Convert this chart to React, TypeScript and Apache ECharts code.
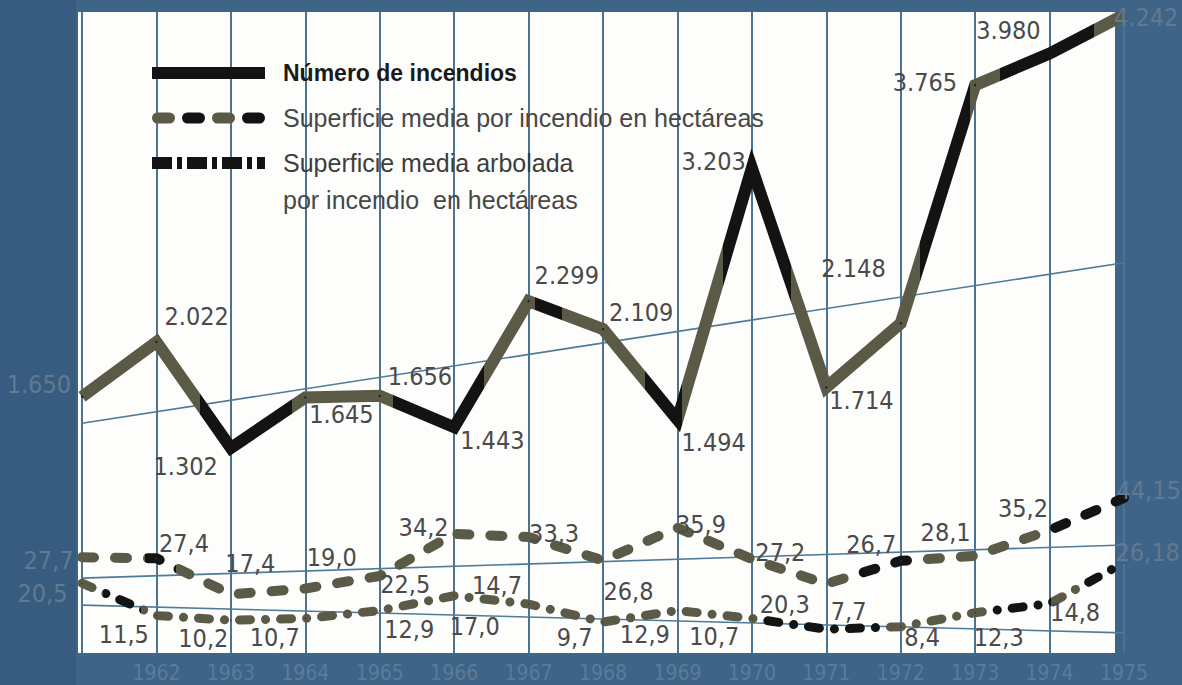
import React, { useEffect, useRef } from 'react';
import * as echarts from 'echarts';

// ---------- data ----------
const years = ['1961', '1962', '1963', '1964', '1965', '1966', '1967', '1968', '1969', '1970', '1971', '1972', '1973', '1974', '1975'];
const fires = [1650, 2022, 1302, 1645, 1656, 1443, 2299, 2109, 1494, 3203, 1714, 2148, 3765, 3980, 4242];
const areaPerFire = [27.7, 27.4, 17.4, 19.0, 22.5, 34.2, 33.3, 26.8, 35.9, 27.2, 20.3, 26.7, 28.1, 35.2, 44.15];
const woodedPerFire = [20.5, 11.5, 10.2, 10.7, 12.9, 17.0, 14.7, 9.7, 12.9, 10.7, 7.7, 8.4, 12.3, 14.8, 26.18];
// trend lines (value at first year, value at last year)
const firesTrend = [1470, 2560];
const areaTrend = [21.9, 31.1];
const woodedTrend = [14.4, 6.7];

const legendNames = [
  'Número de incendios',
  'Superficie media por incendio en hectáreas',
  'Superficie media arbolada',
  'por incendio  en hectáreas',
];

// ---------- label placement (style, not data) ----------
type Place = [string, number, number];
const firePlace: Place[] = [
  ['left', -5, -12], ['right', 2, -25], ['left', -7, 19], ['right', -2, 17], ['right', 2, -19],
  ['right', 0, 13], ['right', 0, -26], ['right', 0, -17], ['right', -2, 23], ['left', 0, -6],
  ['right', -3, 13], ['left', -9, -55], ['left', -12, -3], ['left', -3, -23], ['right', -16, 3],
];
const areaPlace: Place[] = [
  ['left', -3, 3], ['right', -3, -15], ['right', -11, -31], ['right', -4, -31], ['right', -5, 9],
  ['left', 0, -6], ['right', -5, -4], ['right', -5, 31], ['right', -7, -3], ['right', -2, -7],
  ['left', -11, 21], ['left', 1, -16], ['left', 1, -23], ['left', 4, -22], ['right', -13, -8],
];
const woodedPlace: Place[] = [
  ['left', -9, 10], ['left', -2, 19], ['left', 3, 18], ['left', 0, 19], ['right', -1, 19],
  ['right', -10, 31], ['left', -1, -19], ['left', -5, 15], ['left', -2, 24], ['left', -7, 18],
  ['right', -1, -18], ['right', -2, 11], ['right', -7, 25], ['right', -5, 9], ['right', -14, -10],
];

const OLIVE = '#5b5a47';
const BLACK = '#131313';
const BG = '#3e6488';
const GRID = '#4d7393';
const NUM_FONT = "'Liberation Sans Narrow', 'DejaVu Sans Condensed', 'Arial Narrow', sans-serif";
const TXT_FONT = "'Liberation Sans', Arial, sans-serif";

// colour stripes along x: [endFraction, colour]
const fireStripes: [number, string][] = [
  [0.113, OLIVE], [0.202, BLACK], [0.298, OLIVE], [0.386, BLACK], [0.435, OLIVE], [0.461, BLACK],
  [0.54, OLIVE], [0.576, BLACK], [0.615, OLIVE], [0.68, BLACK], [0.804, OLIVE], [0.852, BLACK],
  [0.881, OLIVE], [0.971, BLACK], [1, OLIVE],
];
const areaStripes: [number, string][] = [
  [0.06, OLIVE], [0.09, BLACK], [0.74, OLIVE], [0.8, BLACK], [0.92, OLIVE], [1, BLACK],
];
const woodedStripes: [number, string][] = [
  [0.02, OLIVE], [0.057, BLACK], [0.65, OLIVE], [0.77, BLACK], [0.87, OLIVE], [0.93, BLACK],
  [0.96, OLIVE], [1, BLACK],
];

function stripeGradient(stripes: [number, string][]) {
  const stops: { offset: number; color: string }[] = [];
  let start = 0;
  stripes.forEach(([end, color]) => {
    stops.push({ offset: start, color });
    stops.push({ offset: end, color });
    start = end;
  });
  return new echarts.graphic.LinearGradient(0, 0, 1, 0, stops);
}

const fmtFires = (v: number) => {
  const s = String(Math.round(v));
  return s.length > 3 ? s.slice(0, s.length - 3) + '.' + s.slice(-3) : s;
};
const fmtHa = (v: number) => {
  const oneDec = Math.abs(v * 10 - Math.round(v * 10)) < 1e-6;
  return (oneDec ? v.toFixed(1) : v.toFixed(2)).replace('.', ',');
};

function labelled(values: number[], place: Place[], fmt: (v: number) => string, edgeColor: string) {
  return values.map((v, i) => ({
    value: v,
    label: {
      position: place[i][0],
      offset: [place[i][1], place[i][2]],
      formatter: fmt(v),
      color: i === 0 || i === values.length - 1 ? edgeColor : '#4a4a4a',
    },
  }));
}

export default function App() {
  const ref = useRef<HTMLDivElement>(null);

  useEffect(() => {
    if (!ref.current) return;
    const chart = echarts.init(ref.current, undefined, { renderer: 'svg' });
    const last = years.length - 1;
    const edgeLabel = '#627990';

    const numLabel = {
      show: true,
      fontFamily: NUM_FONT,
      fontSize: 25,
      color: '#4a4a4a',
      distance: 5,
    };

    const legendText = (text: string, y: number, font: string, fill: string) => ({
      type: 'text',
      x: 283,
      y,
      z: 100,
      style: { text, font, fill, verticalAlign: 'middle' },
    });

    chart.setOption({
      animation: false,
      backgroundColor: BG,
      grid: { left: 82, right: 58, top: 12, bottom: 32, containLabel: false },
      xAxis: {
        type: 'category',
        data: years,
        boundaryGap: false,
        axisLine: { show: false },
        axisTick: { show: false },
        axisLabel: {
          interval: 0,
          margin: 9,
          fontFamily: NUM_FONT,
          fontSize: 21,
          color: '#5d7b96',
          formatter: (v: string, i: number) => (i === 0 ? '' : v),
        },
        splitLine: { show: true, lineStyle: { color: GRID, width: 2 } },
      },
      yAxis: [
        { type: 'value', min: -90, max: 4262, show: false, splitLine: { show: false } },
        { type: 'value', min: 1.1, max: 179.15, show: false, splitLine: { show: false } },
      ],
      graphic: [
        {
          type: 'rect',
          z: -100,
          silent: true,
          shape: { x: 0, y: 0, width: 76, height: 685 },
          style: { fill: '#375c80' },
        },
        {
          type: 'rect',
          z: -90,
          silent: true,
          shape: { x: 78, y: 12, width: 1037, height: 641 },
          style: { fill: '#fdfdfb' },
        },
        { type: 'line', z: 100, shape: { x1: 152, y1: 73, x2: 265, y2: 73 }, style: { stroke: BLACK, lineWidth: 12 } },
        {
          type: 'line',
          z: 100,
          shape: { x1: 157.5, y1: 118, x2: 260, y2: 118 },
          style: { stroke: OLIVE, lineWidth: 11, lineDash: [12, 48], lineCap: 'round' },
        },
        {
          type: 'line',
          z: 100,
          shape: { x1: 157.5, y1: 118, x2: 260, y2: 118 },
          style: { stroke: BLACK, lineWidth: 11, lineDash: [12, 48], lineDashOffset: -30, lineCap: 'round' },
        },
        {
          type: 'line',
          z: 100,
          shape: { x1: 152, y1: 163, x2: 265, y2: 163 },
          style: { stroke: BLACK, lineWidth: 12, lineDash: [20, 5, 5, 5] },
        },
        legendText(legendNames[0], 73, `bold 23px ${TXT_FONT}`, '#1a1a1a'),
        legendText(legendNames[1], 118, `25px ${TXT_FONT}`, '#474747'),
        legendText(legendNames[2], 163, `25px ${TXT_FONT}`, '#3d3d3d'),
        legendText(legendNames[3], 200, `25px ${TXT_FONT}`, '#474747'),
      ],
      series: [
        {
          type: 'line',
          name: 'trend-fires',
          yAxisIndex: 0,
          data: [[years[0], firesTrend[0]], [years[last], firesTrend[1]]],
          symbol: 'none',
          silent: true,
          z: 1,
          lineStyle: { color: '#4d7b98', width: 1.6 },
        },
        {
          type: 'line',
          name: 'trend-area',
          yAxisIndex: 1,
          data: [[years[0], areaTrend[0]], [years[last], areaTrend[1]]],
          symbol: 'none',
          silent: true,
          z: 1,
          lineStyle: { color: '#4d7b98', width: 1.6 },
        },
        {
          type: 'line',
          name: 'trend-wooded',
          yAxisIndex: 1,
          data: [[years[0], woodedTrend[0]], [years[last], woodedTrend[1]]],
          symbol: 'none',
          silent: true,
          z: 1,
          lineStyle: { color: '#4d7b98', width: 1.6 },
        },
        {
          type: 'line',
          name: legendNames[2],
          yAxisIndex: 1,
          data: labelled(woodedPerFire, woodedPlace, fmtHa, edgeLabel),
          symbol: 'circle',
          symbolSize: 1,
          itemStyle: { color: BLACK },
          z: 3,
          lineStyle: {
            color: stripeGradient(woodedStripes),
            width: 9,
            type: [11, 15, 0.1, 15],
            cap: 'round',
          },
          label: numLabel,
        },
        {
          type: 'line',
          name: legendNames[1],
          yAxisIndex: 1,
          data: labelled(areaPerFire, areaPlace, fmtHa, edgeLabel),
          symbol: 'circle',
          symbolSize: 1,
          itemStyle: { color: OLIVE },
          z: 3,
          lineStyle: {
            color: stripeGradient(areaStripes),
            width: 10,
            type: [12, 21],
            cap: 'round',
          },
          label: numLabel,
        },
        {
          type: 'line',
          name: legendNames[0],
          yAxisIndex: 0,
          data: labelled(fires, firePlace, fmtFires, edgeLabel),
          symbol: 'circle',
          symbolSize: 2,
          itemStyle: { color: BLACK },
          z: 4,
          lineStyle: {
            color: stripeGradient(fireStripes),
            width: 12,
            join: 'miter',
            miterLimit: 4,
          },
          label: numLabel,
        },
      ],
    });

    return () => chart.dispose();
  }, []);

  return (
    <div
      ref={ref}
      style={{ position: 'fixed', left: 0, top: 0, width: 1182, height: 685, background: BG }}
    />
  );
}
